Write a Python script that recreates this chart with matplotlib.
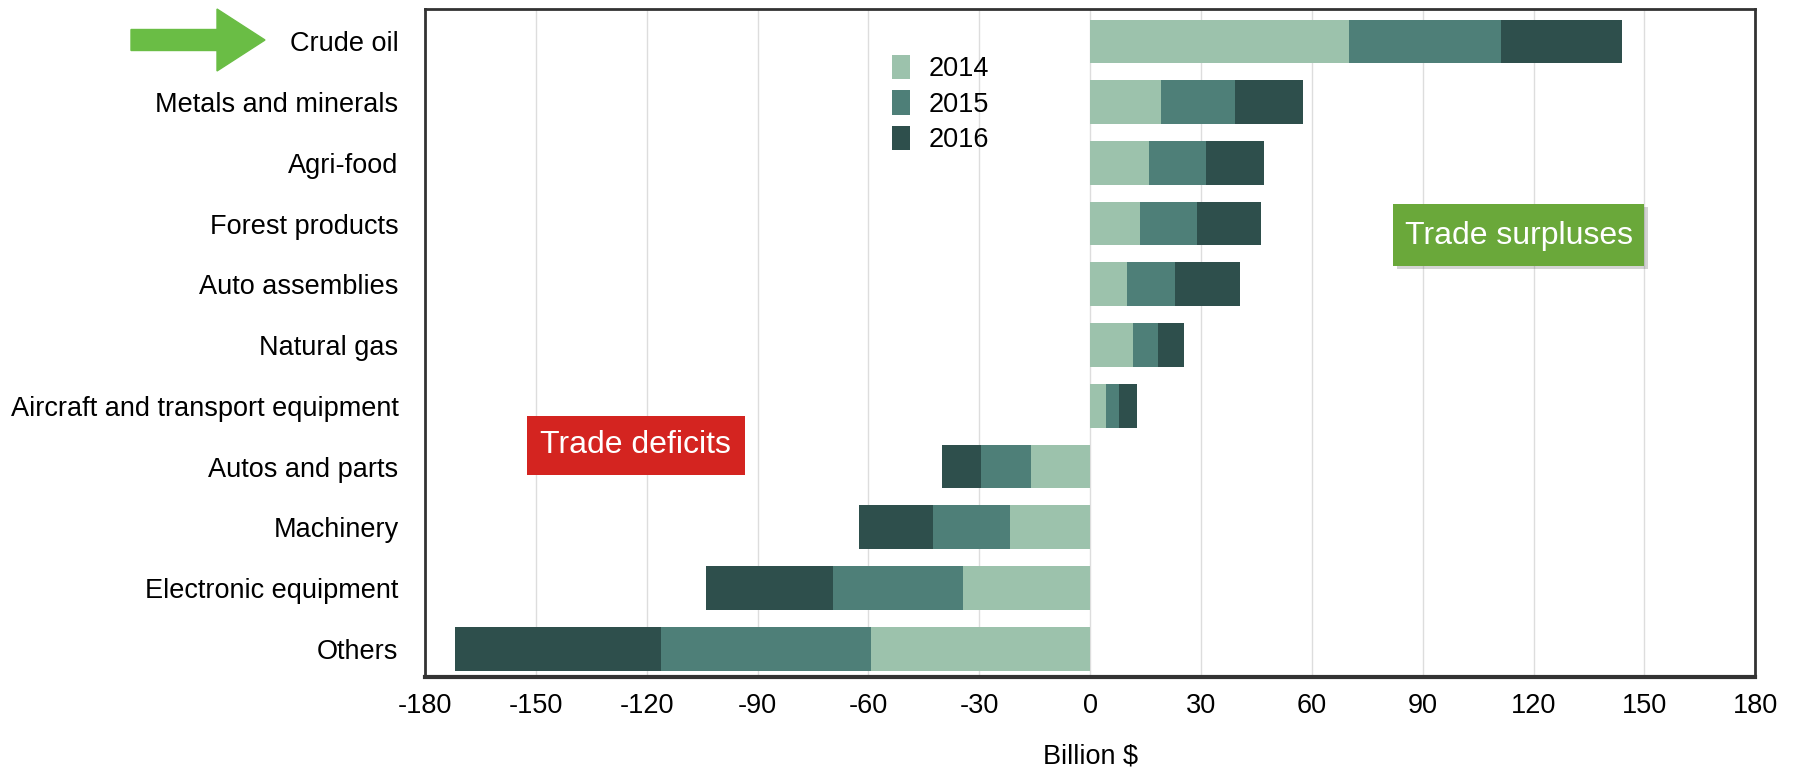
import matplotlib.pyplot as plt
from matplotlib.patches import Rectangle, FancyArrow

plt.rcParams['font.family'] = ['Liberation Sans', 'DejaVu Sans']
plt.rcParams['axes.unicode_minus'] = False

categories = ['Crude oil', 'Metals and minerals', 'Agri-food', 'Forest products',
              'Auto assemblies', 'Natural gas', 'Aircraft and transport equipment',
              'Autos and parts', 'Machinery', 'Electronic equipment', 'Others']
years = ['2014', '2015', '2016']
v2014 = [70.0, 19.2, 15.8, 13.6, 9.9, 11.5, 4.3, -16.1, -21.7, -34.4, -59.2]
v2015 = [41.1, 19.9, 15.5, 15.2, 13.0, 6.8, 3.5, -13.4, -20.8, -35.1, -56.8]
v2016 = [32.8, 18.6, 15.8, 17.4, 17.7, 7.1, 4.9, -10.5, -20.1, -34.4, -56.0]
colors = ['#9cc2ac', '#4e7f78', '#2e4f4c']

fig = plt.figure(figsize=(17.93, 7.67), dpi=100)
ax = fig.add_axes([0.237, 0.117, 0.742, 0.871])

y = list(range(len(categories)))
left = [0.0] * len(categories)
for vals, yr, c in zip([v2014, v2015, v2016], years, colors):
    ax.barh(y, vals, left=left, height=0.72, color=c, label=yr, zorder=3)
    left = [l + v for l, v in zip(left, vals)]

ax.set_xlim(-180, 180)
ax.set_ylim(10.47, -0.53)
ax.set_xticks(range(-180, 181, 30))
ax.set_yticks(y)
ax.set_yticklabels(categories, fontsize=19.5)
ax.tick_params(axis='x', labelsize=19.5, length=0, pad=11)
ax.tick_params(axis='y', length=0, pad=19)
ax.grid(axis='x', color='#dddddd', linewidth=1, zorder=0)
ax.set_xlabel('Billion $', fontsize=19.5, labelpad=18)
for s in ax.spines.values():
    s.set_color('#333333')
    s.set_linewidth(2)
ax.spines['bottom'].set_linewidth(3)

ax.legend(loc='upper left', bbox_to_anchor=(0.333, 0.968), frameon=False,
          fontsize=19.5, handlelength=0.65, handleheight=1.0, handletextpad=0.7,
          labelspacing=0.3)

# annotation boxes
ax.add_patch(Rectangle((83, 2.73), 68, 1.02, facecolor='#555555', alpha=0.25,
                       edgecolor='none', zorder=4))
ax.add_patch(Rectangle((82, 2.68), 68, 1.02, facecolor='#6aa83a', edgecolor='none', zorder=5))
ax.text(116, 3.2, 'Trade surpluses', color='white', fontsize=23, ha='center', va='center', zorder=6)
ax.add_patch(Rectangle((-152.5, 6.16), 59, 0.98, facecolor='#d42420', edgecolor='none', zorder=5))
ax.text(-123, 6.64, 'Trade deficits', color='white', fontsize=23, ha='center', va='center', zorder=6)

# green arrow pointing at "Crude oil"
fig.patches.append(FancyArrow(131 / 1793, 1 - 40 / 767, 86 / 1793, 0, width=21 / 767,
                              head_width=62 / 767, head_length=48 / 1793,
                              length_includes_head=False, color='#6abd45',
                              transform=fig.transFigure, figure=fig))

fig.savefig('out.png', dpi=100)
